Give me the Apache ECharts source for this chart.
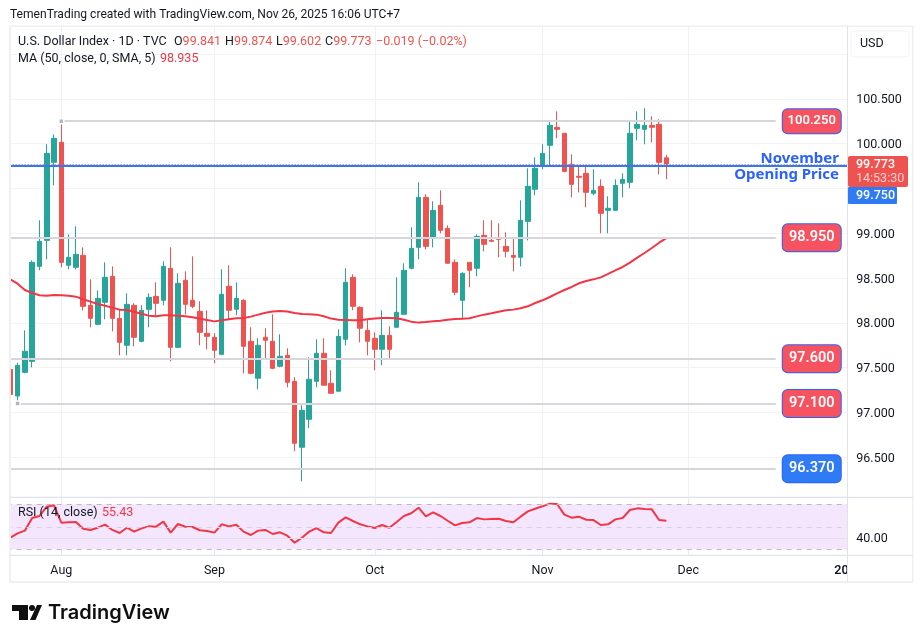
<!DOCTYPE html>
<html>
<head>
<meta charset="utf-8">
<script src="https://cdn.jsdelivr.net/npm/echarts@6/dist/echarts.min.js"></script>
<style>html,body{margin:0;padding:0;background:#fff}#c{width:923px;height:643px}</style>
</head>
<body>
<div id="c"></div>
<script>
// Values (index 0 = 23 Jul 2025, index 90 = 26 Nov 2025)
const opens = [97.48,97.183,97.447,97.57,98.63,98.92,99.791,100.014,98.642,98.619,98.753,98.195,97.983,98.229,98.519,98.05,97.749,98.195,97.793,98.15,98.295,98.251,98.608,97.726,98.474,98.251,98.128,97.883,97.838,97.648,98.407,98.151,98.251,97.794,97.381,97.838,97.794,97.515,97.637,97.347,96.611,96.923,97.347,97.66,97.325,97.236,97.816,98.508,98.173,97.916,97.827,97.704,97.86,97.95,98.095,98.608,98.842,99.4,98.943,99.311,99.054,98.675,98.251,98.675,98.608,98.976,98.92,98.943,98.853,98.753,98.731,99.132,99.49,99.757,99.981,100.182,100.115,99.769,99.635,99.668,99.445,99.523,99.255,99.255,99.557,99.568,100.17,100.159,100.204,100.215,99.841];
const closes = [97.2,97.525,97.682,98.675,98.909,99.891,100.059,98.675,98.731,98.764,98.184,98.05,98.273,98.508,98.05,97.782,98.206,97.838,98.139,98.284,98.217,98.63,97.726,98.441,98.206,98.184,97.894,97.849,97.693,98.318,98.14,98.273,97.738,97.436,97.749,97.805,97.492,97.626,97.336,96.655,97.023,97.37,97.66,97.303,97.213,97.849,98.452,98.184,97.939,97.794,97.704,97.86,97.704,98.117,98.586,98.831,99.4,98.853,99.255,99.032,98.664,98.34,98.552,98.586,98.965,98.876,98.909,98.932,98.798,98.731,99.144,99.523,99.724,99.891,100.204,100.159,99.69,99.545,99.624,99.456,99.478,99.222,99.278,99.534,99.601,100.115,100.215,100.204,100.182,99.791,99.773];
const lows = [97.2,97.127,97.436,97.503,98.586,98.708,99.534,98.619,98.597,98.597,98.139,97.95,97.972,98.039,97.905,97.637,97.637,97.737,97.782,97.95,98.061,98.195,97.57,97.726,98.094,98.162,97.749,97.704,97.548,97.637,98.039,98.084,97.436,97.425,97.258,97.604,97.481,97.503,97.28,96.566,96.231,96.823,97.28,97.303,97.213,97.236,97.749,98.14,97.782,97.637,97.47,97.526,97.604,97.95,98.095,98.597,98.708,98.82,98.842,98.999,98.664,98.307,98.039,98.396,98.519,98.798,98.909,98.731,98.731,98.574,98.63,98.92,99.423,99.713,99.75,100.059,99.679,99.4,99.456,99.289,99.423,98.999,98.999,99.255,99.4,99.501,100.036,99.992,100.014,99.657,99.602];
const highs = [97.61,97.555,97.916,98.697,99.144,99.992,100.103,100.26,98.987,99.077,98.842,98.485,98.362,98.675,98.63,98.15,98.329,98.217,98.195,98.329,98.452,98.686,98.842,98.552,98.574,98.742,98.24,98.139,97.883,98.597,98.642,98.452,98.262,97.95,97.827,97.939,98.095,97.872,97.715,97.392,97.079,97.615,97.816,97.827,97.47,97.927,98.608,98.541,98.184,98.039,97.894,98.14,97.961,98.508,98.664,99.066,99.568,99.434,99.356,99.478,99.088,98.708,98.563,98.675,98.987,99.144,99.144,99.11,99.01,98.954,99.367,99.724,99.847,99.992,100.26,100.36,100.115,99.88,99.757,99.746,99.713,99.601,99.412,99.601,99.668,100.249,100.36,100.394,100.304,100.271,99.874];
const ma50 = [98.485,98.437,98.366,98.333,98.307,98.303,98.31,98.307,98.303,98.292,98.262,98.236,98.21,98.191,98.169,98.147,98.143,98.124,98.102,98.08,98.072,98.083,98.083,98.08,98.072,98.061,98.046,98.031,98.016,98.028,98.039,98.05,98.054,98.069,98.091,98.113,98.125,98.132,98.125,98.11,98.099,98.095,98.091,98.073,98.047,98.035,98.032,98.028,98.028,98.039,98.047,98.054,98.054,98.05,98.035,98.013,98.002,98.009,98.017,98.024,98.035,98.042,98.046,98.05,98.072,98.091,98.106,98.124,98.139,98.147,98.162,98.184,98.221,98.251,98.288,98.329,98.366,98.4,98.441,98.467,98.485,98.507,98.545,98.586,98.623,98.671,98.727,98.779,98.835,98.894,98.945];
const rsi = [40.3,44.2,46.6,57.8,59.6,67.9,69.1,53.7,54,54.3,48.3,47.2,49.2,51.9,47.2,44.5,49.2,45.7,48.6,50.4,50.1,54.6,44.8,52.5,50.1,49.8,46.9,46.3,44.8,52.2,50.4,51.9,45.7,42.7,46.6,47.2,43.6,45.1,42.1,35.9,40.3,45.7,48.9,45.1,44.5,53.7,58.4,55.15,52.2,50.4,48.9,51.6,49.2,54.3,59.6,62,67,59.3,62.9,59.6,55.4,51.3,53.4,54,57.8,56.6,56.9,57.2,55.15,54,59,63.7,66.1,68.2,70.6,70.3,60.8,58.1,59,56.3,56,51.6,52.2,56.6,57.8,64.9,66.4,65.8,65.5,56,55.43];
// x axis: one category per weekday (markets closed 25 Dec), months labelled at their first trading day
const monthLabels = {"2025-08-01":"Aug","2025-09-01":"Sep","2025-10-01":"Oct","2025-11-03":"Nov","2025-12-01":"Dec","2026-01-01":"{y|2026}"};
const priceTicks = [100.5,100,99,98.5,98,97.5,97,96.5];
const rsiTicks = [40];
const drawnLevels = [{v:100.25,from:"2025-08-01",txt:"100.250"},{v:98.95,from:"2025-07-23",txt:"98.950"},{v:97.6,from:"2025-07-23",txt:"97.600"},{v:97.1,from:"2025-07-24",txt:"97.100"},{v:96.37,from:"2025-07-23",txt:"96.370"}];
const lastClose = 99.773, novOpen = 99.75;

const categories = [];
{ const d = new Date(Date.UTC(2025,6,23));
  while (categories.length < 116) { const w = d.getUTCDay(), s = d.toISOString().slice(0,10);
    if (w>0 && w<6 && s!=="2025-12-25") categories.push(s);
    d.setUTCDate(d.getUTCDate()+1); } }
const lineEnd = categories[105];
const candleData = opens.map((o,i)=>[o,closes[i],lows[i],highs[i]]);

const FONT = 'Roboto, sans-serif', ANNOT = '"Noto Sans", sans-serif';
const DARK = '#131722', RED = '#ef5350', MAC = '#f23645', BLUE='#2962ff';
const isMonth = (i,v)=>monthLabels[v]!==undefined;
const PX = 7.29, L = 6.655;
const hiddenX = g=>({type:'category',gridIndex:g,data:categories,show:false});

function txt(x,y,text,o){ return {type:'text',z:60,x,y,style:Object.assign({text,font:'12.5px '+FONT,fill:DARK,verticalAlign:'middle',align:'left'},o||{})}; }
function rect(x,y,w,h,fill,z,r,stroke){ return {type:'rect',z:z,shape:{x,y,width:w,height:h,r:r||0},style:{fill,stroke:stroke||null,lineWidth:stroke?1:0}}; }
const rich = {r:{fill:RED,font:'12.5px '+FONT},m:{fill:MAC,font:'12.5px '+FONT}};

const graphic = [
  // masks around the panes
  rect(0,0,923,26,'#fff',50), rect(0,26,10,560,'#fff',50),
  rect(847.5,26,75,556,'#fff',10), rect(0,582,923,61,'#fff',50),
  // frame & separators
  rect(9,26,2,556,'#f0f0f3',55), rect(9,25.5,904,1.5,'#f0f0f3',55), rect(912,26,1.5,556,'#f0f0f3',55), rect(9,581,904,2,'#f0f0f3',55),
  rect(847,27,1,554,'#e0e3eb',55), rect(10,496.8,903,1.2,'#e0e3eb',55), rect(10,554.8,903,1.2,'#e0e3eb',55),
  // header
  txt(10,14.5,'TemenTrading created with TradingView.com, Nov 26, 2025 16:06 UTC+7',{font:'12.08px '+FONT}),
  txt(18,42,'U.S. Dollar Index · 1D · TVC'),
  txt(174,42,'O{r|99.841}',{rich}), txt(225,42,'H{r|99.874}',{rich}), txt(276,42,'L{r|99.602}',{rich}), txt(325,42,'C{r|99.773}',{rich}),
  txt(376,42,'−0.019 (−0.02%)',{fill:RED}),
  txt(18,59,'MA (50, close, 0, SMA, 5)'), txt(160,59,'98.935',{fill:MAC}),
  txt(18,513,'RSI (14, close)'), txt(102,513,'55.43',{fill:MAC}),
  // annotation
  txt(839,159,'November',{align:'right',font:'bold 15px '+ANNOT,fill:BLUE}),
  txt(839,175,'Opening Price',{align:'right',font:'bold 15px '+ANNOT,fill:BLUE}),
  // price scale
  rect(851,31,58,26,'#fff',60,4,'#f0f3fa'), txt(860,44,'USD'),
  rect(848,156,60,31,RED,60,2), txt(856,165,'99.773',{fill:'#fff',font:'500 12.5px '+FONT}), txt(856,179,'14:53:30',{fill:'rgba(255,255,255,.72)',font:'12.5px '+FONT}),
  rect(848,187,49,17,'#2f7bf5',60,1), txt(856,195.7,'99.750',{fill:'#fff',font:'500 12.5px '+FONT}),
  // logo
  {type:'polygon',z:60,shape:{points:[[12,605],[28,605],[28,620],[19,620],[19,611],[12,611]]},style:{fill:'#0f0f0f'}},
  {type:'circle',z:60,shape:{cx:32,cy:608,r:3},style:{fill:'#0f0f0f'}},
  {type:'polygon',z:60,shape:{points:[[37,605],[42,605],[35.5,620],[30,620]]},style:{fill:'#0f0f0f'}},
  txt(48,613,'TradingView',{font:'600 20px Inter, '+FONT,fill:'#0f0f0f'})
];

const tagStyle = (t,big,fill)=>({show:true,position:'end',distance:36,formatter:t,color:'#fff',fontFamily:FONT,fontWeight:600,fontSize:big?14.5:13,
  backgroundColor:fill,borderColor:'#2962ff',borderWidth:1,borderRadius:5,width:58,align:'center',padding:[big?6:5.5,0]});

const option = {
  animation:false, backgroundColor:'#fff', textStyle:{fontFamily:FONT},
  graphic,
  grid:[
    {left:L,top:9.2,width:116*PX,height:5.5*89.6},
    {left:L,top:504.3-5*1.125,width:116*PX,height:50*1.125},
    {left:L,top:10.6,width:116*PX,height:5.5*89.6},
    {left:L,top:504.3-5*1.125+1,width:116*PX,height:50*1.125}
  ],
  xAxis:[
    {type:'category',gridIndex:0,data:categories,boundaryGap:true,axisLine:{show:false},axisTick:{show:false},axisLabel:{show:false},
     splitLine:{show:true,interval:isMonth,alignWithLabel:true,lineStyle:{color:'#f0f1f4',width:1}}},
    {type:'category',gridIndex:1,data:categories,boundaryGap:true,axisLine:{show:false},axisTick:{show:false},
     axisLabel:{show:true,interval:isMonth,margin:9,fontSize:12.5,color:DARK,fontFamily:FONT,hideOverlap:false,showMaxLabel:true,
       formatter:v=>monthLabels[v]||'',rich:{y:{fontWeight:600,fontSize:12.5,color:DARK,fontFamily:FONT}}},
     splitLine:{show:true,interval:isMonth,alignWithLabel:true,lineStyle:{color:'#e9e5f2',width:1}}},
    hiddenX(2), hiddenX(3)
  ],
  yAxis:[
    {type:'value',gridIndex:0,position:'right',min:96,max:101.5,interval:0.5,axisLine:{show:false},axisTick:{show:false},axisLabel:{show:false},
     splitLine:{show:true,showMinLine:false,showMaxLine:false,lineStyle:{color:'#f3f3f5',width:1}}},
    {type:'value',gridIndex:1,position:'right',min:25,max:75,interval:5,axisLine:{show:false},axisTick:{show:false},axisLabel:{show:false},splitLine:{show:false}},
    {type:'value',gridIndex:2,position:'right',z:20,min:96,max:101.5,interval:0.5,axisLine:{show:false},axisTick:{show:false},splitLine:{show:false},
     axisLabel:{margin:4,align:'left',fontSize:12.5,color:DARK,fontFamily:FONT,formatter:v=>priceTicks.includes(v)?v.toFixed(3):''}},
    {type:'value',gridIndex:3,position:'right',z:20,min:25,max:75,interval:5,axisLine:{show:false},axisTick:{show:false},splitLine:{show:false},
     axisLabel:{margin:4,align:'left',fontSize:12.5,color:DARK,fontFamily:FONT,formatter:v=>rsiTicks.includes(v)?v.toFixed(2):''}}
  ],
  series:[
    {type:'line',name:'levels',xAxisIndex:0,yAxisIndex:0,z:2,data:[],silent:true,
     markLine:{silent:true,symbol:'none',animation:false,precision:3,
       lineStyle:{color:'#d6d6dc',width:2,type:'solid'},
       data:drawnLevels.map(d=>{
         const fill = d.v===96.37?'#2f7bf5':'#f7525f';
         return [{coord:[d.from,d.v]},{coord:[lineEnd,d.v],label:tagStyle(d.txt,d.v!==100.25,fill)}];
       })},
     markPoint:{silent:true,symbol:'rect',symbolSize:5,label:{show:false},animation:false,
       itemStyle:{color:'#b2b5be',borderColor:'#fff',borderWidth:1.5},
       data:[{coord:["2025-08-01",100.25]},{coord:["2025-07-24",97.1]}]}},
    {type:'candlestick',name:'DXY',xAxisIndex:0,yAxisIndex:0,z:3,data:candleData,barWidth:5,
     itemStyle:{color:'#26a69a',color0:RED,borderColor:'#26a69a',borderColor0:RED,borderWidth:1}},
    {type:'line',name:'MA',xAxisIndex:0,yAxisIndex:0,z:4,data:ma50,showSymbol:false,symbol:'none',smooth:false,
     lineStyle:{color:MAC,width:2}},
    {type:'line',name:'price',xAxisIndex:0,yAxisIndex:0,z:5,data:[],silent:true,
     markLine:{silent:true,symbol:'none',animation:false,label:{show:false},
       data:[{yAxis:novOpen,lineStyle:{color:'#2f7bf5',width:2,type:'solid'}},
             {yAxis:lastClose,lineStyle:{color:RED,width:1,type:[1,2]}}]}},
    {type:'line',name:'RSI',xAxisIndex:1,yAxisIndex:1,z:4,data:rsi,showSymbol:false,symbol:'none',
     lineStyle:{color:MAC,width:2},
     markArea:{silent:true,animation:false,itemStyle:{color:'#f4e7fd'},label:{show:false},
       data:[[{yAxis:70},{yAxis:30}]]},
     markLine:{silent:true,symbol:'none',animation:false,label:{show:false},
       data:[{yAxis:70,lineStyle:{color:'#bdb8c4',width:1,type:[5,5]}},
             {yAxis:50,lineStyle:{color:'#d6cfdf',width:1,type:[5,5]}},
             {yAxis:30,lineStyle:{color:'#bdb8c4',width:1,type:[5,5]}},
             {yAxis:40,lineStyle:{color:'#e6dcef',width:1,type:'solid'}}]}}
  ]
};
const chart = echarts.init(document.getElementById('c'),null,{renderer:'canvas',width:923,height:643});
chart.setOption(option);
</script>
</body>
</html>
